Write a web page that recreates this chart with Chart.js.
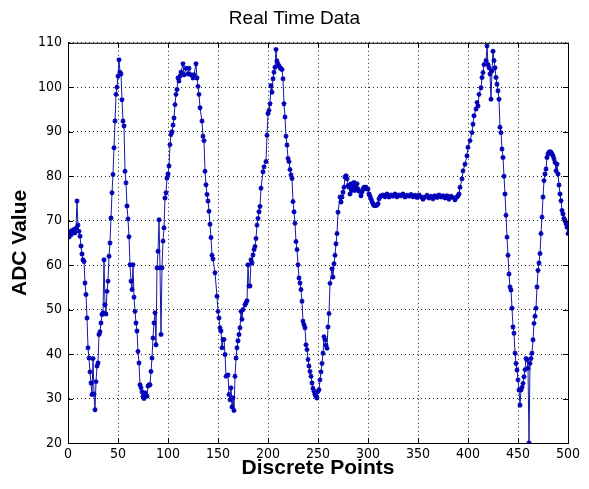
<!DOCTYPE html>
<html>
<head>
<meta charset="utf-8">
<title>Real Time Data</title>
<script src="https://cdn.jsdelivr.net/npm/chart.js@4.4.1/dist/chart.umd.min.js"></script>
<style>
    html, body { margin: 0; padding: 0; background: #ffffff; }
    #wrap { width: 589px; height: 489px; }
</style>
</head>
<body>
<div id="wrap"><canvas id="adcChart" width="589" height="489"></canvas></div>
<script>
// sample index of every reading
const pointIndex = [
    0, 1, 2, 3, 4, 5, 6, 7, 8, 9, 10, 11, 12, 13, 14, 15, 16, 17, 18, 19,
    20, 21, 22, 23, 24, 25, 26, 27, 28, 29, 30, 31, 32, 33, 34, 35, 36, 37, 38, 39,
    40, 41, 42, 43, 44, 45, 46, 47, 48, 49, 50, 51, 52, 53, 54, 55, 56, 57, 58, 59,
    60, 61, 62, 63, 64, 65, 66, 67, 68, 69, 70, 71, 72, 73, 74, 75, 76, 77, 78, 79,
    80, 81, 82, 83, 84, 85, 86, 87, 88, 89, 90, 91, 92, 93, 94, 95, 96, 97, 98, 99,
    100, 101, 102, 103, 104, 105, 106, 107, 108, 109, 110, 111, 112, 113, 115, 116, 118, 120, 121, 123,
    125, 126, 128, 129, 130, 131, 132, 134, 135, 136, 137, 138, 139, 140, 141, 142, 143, 144, 145, 147,
    149, 150, 151, 152, 153, 154, 155, 156, 157, 158, 160, 161, 162, 163, 164, 165, 166,
    167, 168, 169, 170, 171, 172, 173, 174, 175, 177, 178, 179, 180, 181, 182, 183, 184, 185, 186,
    187, 188, 189, 190, 191, 192, 193, 195, 196, 198, 199, 200, 201, 202, 203, 204, 205, 206, 207, 208,
    209, 210, 211, 212, 213, 214, 215, 216, 217, 218, 219, 220, 221, 222, 223, 224, 225, 226, 227, 228,
    229, 230, 231, 232, 233, 234, 235, 236, 237, 238, 239, 240, 241, 242, 243, 244, 245, 246, 247, 248,
    249, 250, 251, 252, 253, 254, 255, 256, 257, 258, 259, 260, 261, 262,
    264, 265, 266, 267, 268, 269, 270, 272, 273, 274, 275, 276, 277, 278,
    279, 280, 281, 282, 283, 284, 285, 286, 287, 288, 289, 290, 291,
    293, 294, 295, 296, 297, 298, 299, 300, 301, 302, 303, 304, 305, 306, 307, 308, 309, 310, 311, 312, 313,
    315, 317, 319, 321, 323, 325, 327, 329, 331, 333, 335, 337, 339, 341, 343, 345, 347, 349, 351,
    353, 355, 357, 359, 361, 363, 365, 367, 369, 371, 373, 375, 377, 379, 381, 383, 385, 387, 389, 390,
    391, 392, 394, 395, 397, 399, 400, 402, 404, 405, 406, 408, 409, 410, 411, 413, 414, 415, 416, 418, 419,
    420, 421, 422, 423, 424, 425, 426, 427, 428, 429, 430, 431, 432, 433, 434, 435, 436,
    437, 438, 439, 440, 441, 442, 443, 444, 445, 446, 447, 448, 449, 450, 451, 452,
    453, 454, 455, 456, 457, 458, 459, 460, 461,
    462, 463, 464, 465, 466, 467, 468, 469, 470, 471, 472, 473, 474, 475, 476, 477, 478, 479, 480, 481, 482,
    483, 484, 485, 486, 487, 488, 489, 490, 491, 492, 493, 494, 495, 496, 497, 498, 499, 500
];

// ADC reading at each index
const adcValue = [
    67, 66.3, 67.5, 66.8, 67.8, 67.2, 68, 67.3, 68.3, 74.4, 69, 67.6, 66.5, 64.3, 62.5, 61.2, 60.8, 56, 53.4, 48.1,
    41.4, 39.1, 36, 33.5, 30.9, 39, 31, 27.5, 33.8, 37.3, 38, 44.4, 45, 47, 48.9, 49.3, 61.2, 51.1, 49, 54.1,
    56.4, 62, 65, 70.6, 76.3, 80.4, 86.4, 92.4, 98.4, 100, 102.5, 106.2, 103.4, 103, 97.2, 92.4, 91.3, 81.1, 78.5, 73.3,
    70.4, 66.4, 60.1, 56.4, 54.5, 60.1, 52.8, 49.6, 47, 45.2, 40.6, 38, 33.1, 32.4, 31.5, 30.5, 30, 31.3, 30.8, 30.5,
    32.8, 33.1, 33.1, 36.1, 39.1, 43.6, 47, 49.3, 42.1, 59.4, 63.1, 70.2, 59.4, 44.4, 59.4, 65.4, 68.4, 75.1, 76.3, 79.6,
    80.5, 82.3, 87.1, 89.4, 90, 91.5, 93.1, 96.1, 98.4, 99.5, 102.1, 101.4, 102.5, 103.4, 105.3, 102.8, 104.3, 103, 104.3, 102.8,
    102.1, 102.8, 105.3, 102.1, 100.2, 98.4, 95.4, 92.4, 89, 88, 81.1, 78.1, 75.9, 74.4, 72.1, 69.2, 66.2, 62.2, 61.4, 58.3,
    53, 49.6, 48.1, 45.9, 45.2, 41.4, 43.3, 43.3, 39.9, 35, 35.3, 30.9, 29.7, 32.4, 28.1, 30.2, 27.3,
    35, 39.1, 41.4, 43, 44.4, 45.9, 49.6, 47.8, 50, 51.1, 51.5, 52, 60.1, 55.3, 55.3, 61.2, 60.5, 62.3, 63.5,
    64.2, 66, 69, 70.5, 72, 73.2, 77.3, 81, 82.1, 83.3, 89.2, 94.1, 94.8, 96.3, 100.4, 98.9, 101.9, 103.4, 104.5, 108.5,
    105.9, 105.2, 104.8, 104.4, 104.2, 104, 101.9, 96.3, 93.3, 89, 87, 84, 83.3, 81.5, 80.3, 79.5, 74.3, 72, 69.4, 65.3,
    63.5, 60.1, 57.1, 56, 54.5, 51.9, 47.4, 46.6, 45.9, 42.1, 41, 38.8, 37.3, 36.1, 35, 33.5, 32.3, 31.6, 30.9, 30.5,
    30.1, 31.6, 32, 34.2, 36, 37.9, 40.2, 43.9, 43.2, 42, 41.3, 46.1, 49.1, 55.9,
    59.2, 57.3, 60.3, 62.2, 64.8, 67.1, 71.9, 75.3, 74.2, 75.3, 76.4, 77.5, 79.8, 80.1,
    79.4, 77.9, 77.5, 76, 78.3, 76.8, 77.5, 78.6, 76.8, 77.5, 78.3, 77.1, 76.6,
    75.6, 76.5, 77.1, 77.5, 77.3, 77.5, 77.1, 77.1, 76, 75.5, 74.9, 74.3, 73.8, 73.4, 73.4, 73.4, 73.6, 73.8, 74.9, 75.3, 75.6,
    75.8, 75.4, 76, 75.3, 75.8, 75.5, 76, 75.4, 75.8, 75.6, 76, 75.3, 75.7, 75.5, 75.9, 75.4, 75.7, 75.2, 75.8,
    75.4, 74.8, 75.3, 75.7, 75.1, 75.5, 74.9, 75.6, 75.2, 75.8, 75.3, 75.6, 75.1, 75.6, 74.8, 75.5, 75.2, 74.7, 75.3, 75.6,
    76, 77.5, 79.4, 81.2, 82.7, 84.6, 86.5, 88, 89.8, 91.7, 93.6, 95.1, 96.6, 95.8, 98.4, 99.9, 102.2, 103.3, 105.1, 106, 109.3,
    105.1, 104.4, 103, 97.3, 103.7, 108.1, 106, 104.4, 102.2, 100.7, 99.2, 97.3, 91, 89.8, 86.1, 84.2, 80,
    76, 71.2, 66.3, 62.2, 58, 55.1, 54.4, 50.3, 46.1, 44.7, 40.2, 37.9, 36.4, 34.2, 31.9, 28.5,
    31.9, 32.5, 33.4, 34.9, 36.5, 39, 38.7, 36.8, 20,
    37.9, 39, 40.2, 43.2, 46.9, 48.5, 50.3, 55.1, 58.8, 60.5, 62.6, 67.1, 70.8, 75.3, 79, 80.5, 81.6, 84.2, 85, 85.4, 85.5,
    85.4, 85, 84.6, 83.9, 83.1, 81.2, 82.7, 80.5, 78, 76, 74.5, 72.3, 71.5, 70.5, 70, 69.3, 68.5, 67.1
];

// axis ticks
const xTicks = [0, 50, 100, 150, 200, 250, 300, 350, 400, 450, 500];
const yTicks = [20, 30, 40, 50, 60, 70, 80, 90, 100, 110];

const points = pointIndex.map(function (x, i) {
    return { x: x, y: adcValue[i] };
});

const tickFont = { family: "'Liberation Sans Narrow', 'DejaVu Sans Condensed', Arial, sans-serif", size: 14 };
const labelFont = { family: "'Liberation Sans', Arial, sans-serif", size: 21, weight: 'bold' };

// MATLAB style box with inward ticks
const boxPlugin = {
    id: 'boxPlugin',
    afterDraw: function (chart) {
        const ctx = chart.ctx;
        const a = chart.chartArea;
        const xs = chart.scales.x;
        const ys = chart.scales.y;
        ctx.save();
        ctx.strokeStyle = '#000000';
        ctx.lineWidth = 1;
        ctx.strokeRect(a.left + 0.5, a.top + 0.5, a.right - a.left, a.bottom - a.top);
        ctx.beginPath();
        xTicks.forEach(function (t) {
            const px = Math.round(xs.getPixelForValue(t)) + 0.5;
            ctx.moveTo(px, a.bottom);
            ctx.lineTo(px, a.bottom - 5);
            ctx.moveTo(px, a.top);
            ctx.lineTo(px, a.top + 5);
        });
        yTicks.forEach(function (t) {
            const py = Math.round(ys.getPixelForValue(t)) + 0.5;
            ctx.moveTo(a.left, py);
            ctx.lineTo(a.left + 5, py);
            ctx.moveTo(a.right, py);
            ctx.lineTo(a.right - 5, py);
        });
        ctx.stroke();
        ctx.restore();
    }
};

const config = {
    type: 'line',
    data: {
        datasets: [{
            label: 'ADC',
            data: points,
            borderColor: '#1818a8',
            borderWidth: 1,
            pointStyle: 'star',
            pointRadius: 2.5,
            pointBorderWidth: 1.3,
            pointBorderColor: '#0000b8',
            pointBackgroundColor: '#0000b8',
            tension: 0
        }]
    },
    options: {
        responsive: false,
        animation: false,
        layout: { padding: 0 },
        plugins: {
            legend: { display: false },
            tooltip: { enabled: false },
            title: {
                display: true,
                text: 'Real Time Data',
                color: '#000000',
                font: { family: "'Liberation Sans', Arial, sans-serif", size: 19, weight: 'normal' },
                padding: { top: 7, bottom: 13 }
            }
        },
        scales: {
            x: {
                type: 'linear',
                min: 0,
                max: 500,
                afterBuildTicks: function (scale) {
                    scale.ticks = xTicks.map(function (v) { return { value: v }; });
                },
                afterFit: function (scale) { scale.height = 46; },
                ticks: { color: '#000000', font: tickFont, padding: 3, maxRotation: 0 },
                grid: { color: 'rgba(0,0,0,0.85)', drawTicks: false },
                border: { display: true, color: '#000000', dash: [1, 3] },
                title: {
                    display: true,
                    text: 'Discrete Points',
                    color: '#000000',
                    font: labelFont,
                    padding: { top: 0, bottom: 8 }
                }
            },
            y: {
                min: 20,
                max: 110,
                afterBuildTicks: function (scale) {
                    scale.ticks = yTicks.map(function (v) { return { value: v }; });
                },
                afterFit: function (scale) { scale.width = 68; },
                ticks: { color: '#000000', font: tickFont, padding: 6 },
                grid: { color: 'rgba(0,0,0,0.85)', drawTicks: false },
                border: { display: true, color: '#000000', dash: [1, 3] },
                title: {
                    display: true,
                    text: 'ADC Value',
                    color: '#000000',
                    font: labelFont,
                    padding: { top: 8, bottom: 0 }
                }
            },
            // empty right-hand strip so the title centres like the original
            yRight: {
                position: 'right',
                display: true,
                min: 20,
                max: 110,
                afterFit: function (scale) { scale.width = 21; },
                ticks: { display: false },
                grid: { display: false, drawTicks: false },
                border: { display: false }
            }
        }
    },
    plugins: [boxPlugin]
};

const myChart = new Chart(document.getElementById('adcChart'), config);
</script>
</body>
</html>
